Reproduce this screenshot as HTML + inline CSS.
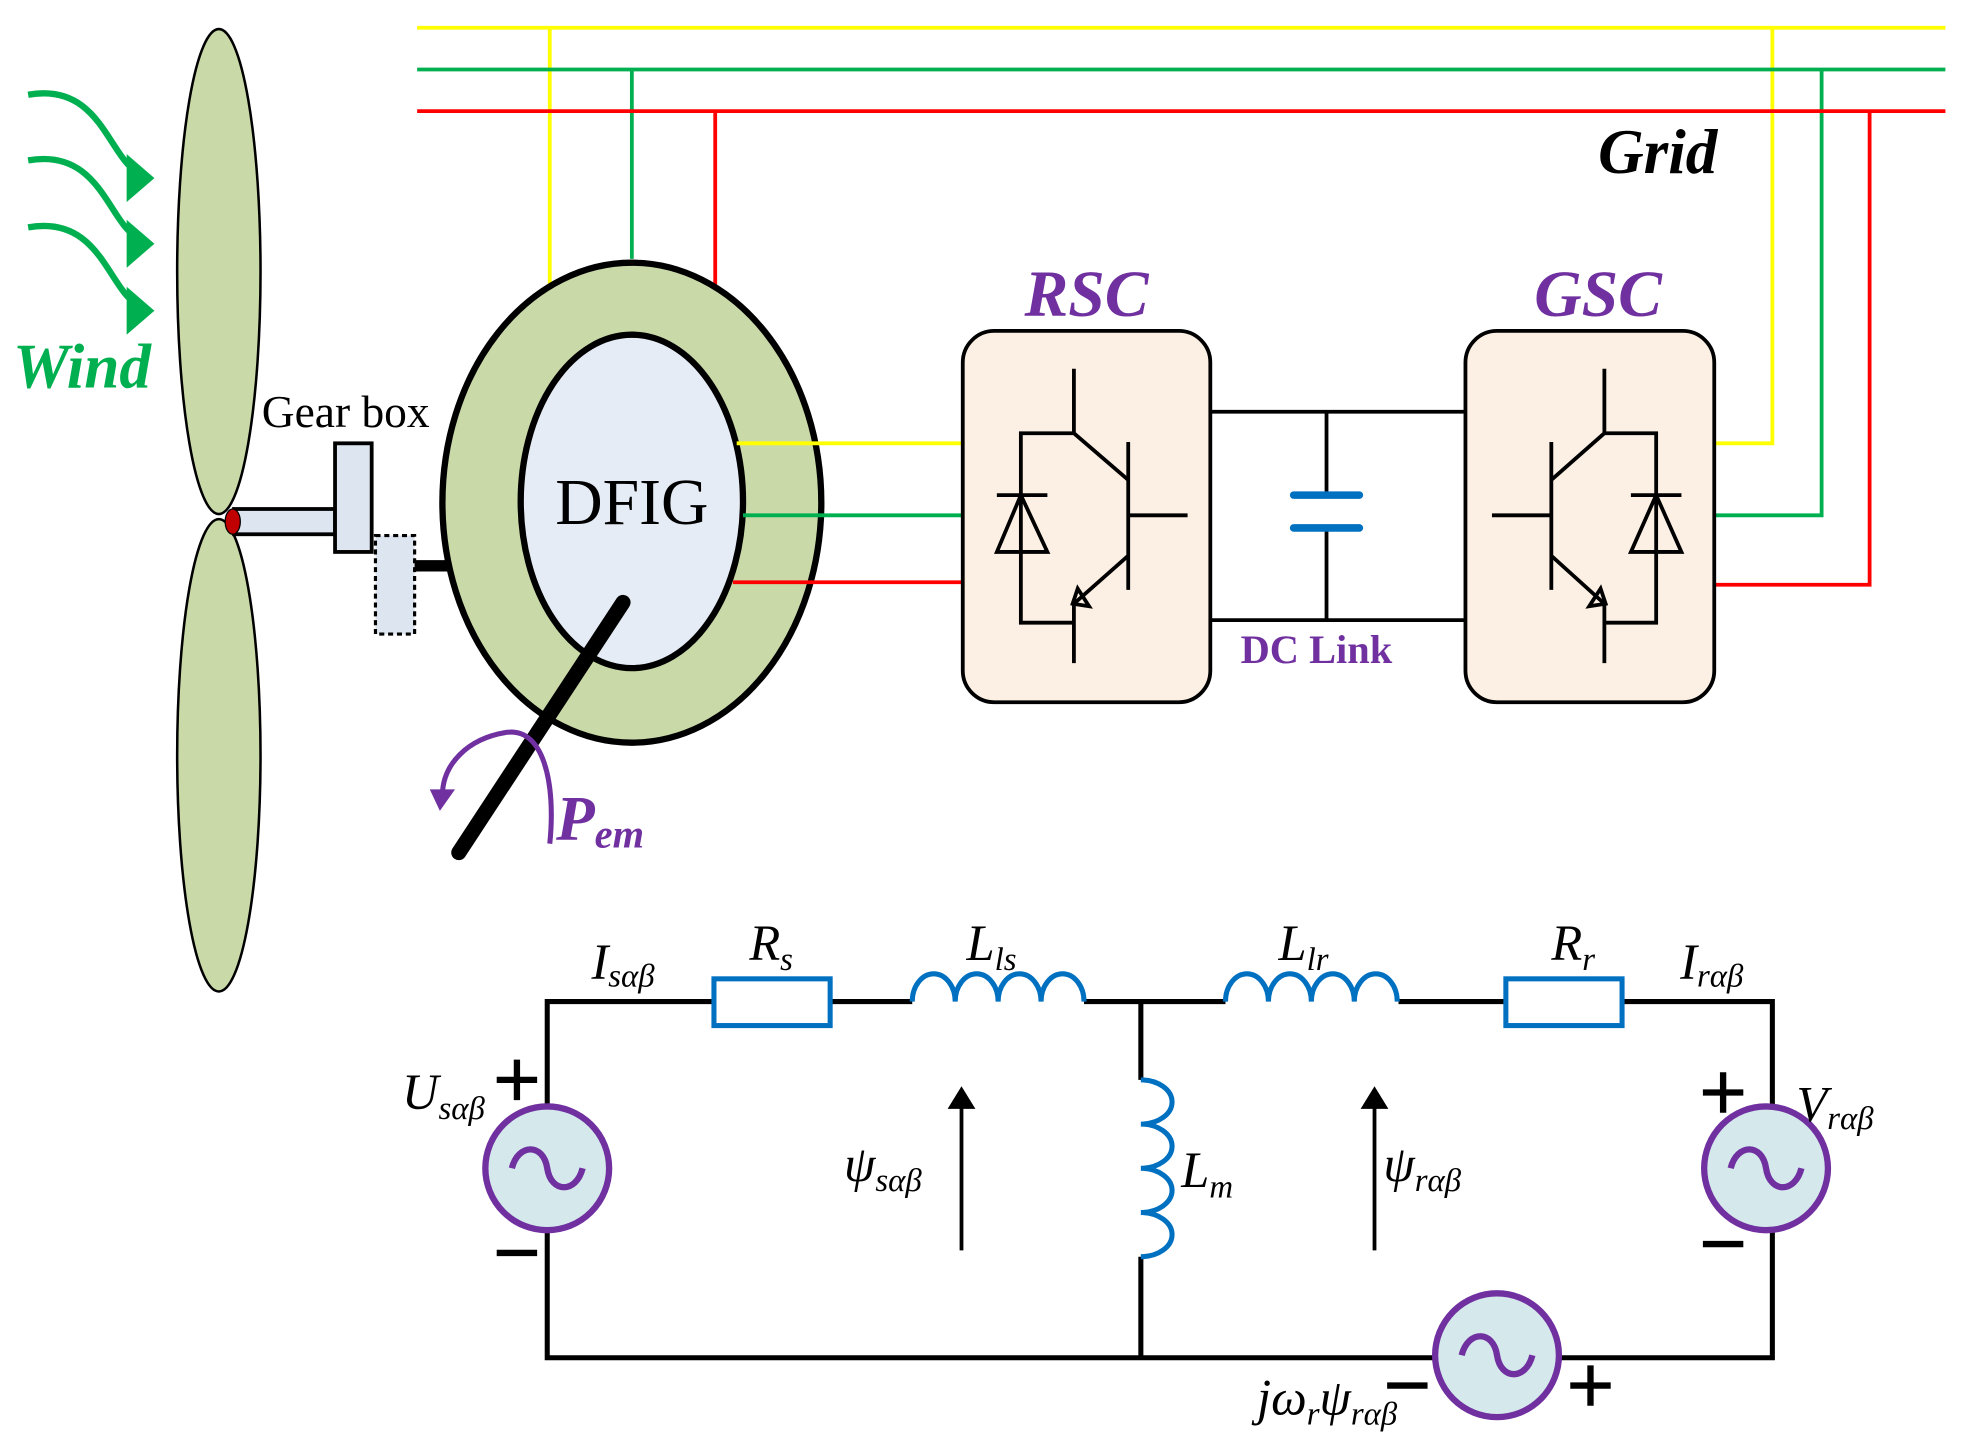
<!DOCTYPE html>
<html><head><meta charset="utf-8"><style>html,body{margin:0;padding:0;background:#fff}svg{display:block}text{font-family:"Liberation Serif",serif}</style></head>
<body>
<svg width="1971" height="1455" viewBox="0 0 1560 1152" xmlns="http://www.w3.org/2000/svg">
<g fill="none" stroke-width="3">
<path d="M330 22H1540M435 22V228M1403 22V351H1357" stroke="#ffff00"/>
<path d="M330 55H1540M500 55V205M1442 55V408H1357" stroke="#00b050"/>
<path d="M330 88H1540M566 88V230M1480 88V463H1357" stroke="#ff0000"/>
</g>
<text x="1265" y="137" font-size="50" font-weight="bold" font-style="italic">Grid</text>
<ellipse cx="173" cy="215" rx="33" ry="192" fill="#cad9a8" stroke="#000" stroke-width="2"/>
<ellipse cx="173" cy="598" rx="33" ry="187" fill="#cad9a8" stroke="#000" stroke-width="2"/>
<rect x="185" y="403" width="80" height="20" fill="#dde6f0" stroke="#000" stroke-width="3"/>
<ellipse cx="184" cy="413" rx="6" ry="10" fill="#c00000" stroke="#000" stroke-width="1"/>
<rect x="265" y="351" width="29" height="86" fill="#dde6f0" stroke="#000" stroke-width="3"/>
<rect x="297" y="424" width="31" height="78" fill="#dde6f0" stroke="#000" stroke-width="2.5" stroke-dasharray="4,3"/>
<path d="M328 448H355" stroke="#000" stroke-width="9"/>
<text x="207" y="338" font-size="36">Gear box</text>
<g fill="none" stroke="#00b050" stroke-width="5">
<path d="M22 75C80 65 85 125 110 137"/><path d="M22 127C80 117 85 177 110 189"/><path d="M22 180C80 170 85 230 110 242"/>
</g>
<g fill="#00b050"><path d="M122 141L100 122L100 160Z"/><path d="M122 193L100 174L100 212Z"/><path d="M122 246L100 227L100 265Z"/></g>
<text x="10" y="307" font-size="50" font-weight="bold" font-style="italic" fill="#00b050">Wind</text>
<ellipse cx="500" cy="398" rx="150" ry="190" fill="#cad9a8" stroke="#000" stroke-width="5"/>
<ellipse cx="500" cy="397" rx="88" ry="132" fill="#e6ecf6" stroke="#000" stroke-width="5"/>
<text x="500" y="415" font-size="52" text-anchor="middle">DFIG</text>
<g fill="none" stroke-width="3">
<path d="M583 351H762" stroke="#ffff00"/>
<path d="M588 408H762" stroke="#00b050"/>
<path d="M580 461H762" stroke="#ff0000"/>
</g>
<path d="M493 477L363 675" stroke="#000" stroke-width="12" stroke-linecap="round"/>
<path d="M435 668C440 620 430 575 400 580C370 585 350 605 350 630" fill="none" stroke="#7030a0" stroke-width="4"/>
<path d="M340 625L360 625L348 642Z" fill="#7030a0"/>
<text x="440" y="665" font-size="50" font-weight="bold" font-style="italic" fill="#7030a0">P<tspan font-size="32" dy="6">em</tspan></text>
<path d="M958 326H1160M958 491H1160M1050 326V392M1050 418V491" stroke="#000" stroke-width="3" fill="none"/>
<path d="M1024 392H1076M1024 418H1076" stroke="#0070c0" stroke-width="6" stroke-linecap="round"/>
<text x="982" y="525" font-size="32" font-weight="bold" fill="#7030a0">DC Link</text>
<rect x="762" y="262" width="196" height="294" rx="25" fill="#fcefe3" stroke="#000" stroke-width="3"/>
<rect x="1160" y="262" width="197" height="294" rx="25" fill="#fcefe3" stroke="#000" stroke-width="3"/>
<text x="860" y="250" font-size="52" font-weight="bold" font-style="italic" fill="#7030a0" text-anchor="middle">RSC</text>
<text x="1265" y="250" font-size="52" font-weight="bold" font-style="italic" fill="#7030a0" text-anchor="middle">GSC</text>
<g fill="none" stroke="#000" stroke-width="3">
<path d="M850 292V343L893 380M893 350V467M893 408H940M893 440L850 478V525M850 343H808V493H850M789 392H829M808 392L789 437H829Z"/>
<path d="M849 478L853 466L862 480Z"/>
<path d="M1270 292V343L1228 380M1228 350V467M1228 408H1181M1228 440L1270 478V525M1270 343H1311V493H1270M1291 392H1331M1311 392L1291 437H1331Z"/>
<path d="M1271 478L1267 466L1258 480Z"/>
</g>
<g fill="none" stroke="#000" stroke-width="4">
<path d="M433 876V793H565M657 793H722M858 793H970M1107 793H1192M1284 793H1403V876M433 974V1075H1135M1235 1075H1403V974M903 793V855M903 995V1075"/>
<path d="M761 990V870M1088 990V870" stroke-width="3"/>
</g>
<path d="M761 860L750 878H772Z M1088 860L1077 878H1099Z"/>
<g fill="none" stroke="#0070c0" stroke-width="4">
<rect x="565" y="775" width="92" height="37" fill="#fff"/>
<rect x="1192" y="775" width="92" height="37" fill="#fff"/>
<path d="M722 793a17 22 0 0 1 34 0a17 22 0 0 1 34 0a17 22 0 0 1 34 0a17 22 0 0 1 34 0"/>
<path d="M970 793a17 22 0 0 1 34 0a17 22 0 0 1 34 0a17 22 0 0 1 34 0a17 22 0 0 1 34 0"/>
<path d="M903 855a24 17 0 0 1 0 35a24 17 0 0 1 0 35a24 17 0 0 1 0 35a24 17 0 0 1 0 35"/>
</g>
<g fill="#d5e8ec" stroke="#7030a0" stroke-width="5">
<circle cx="433" cy="925" r="49"/><circle cx="1185" cy="1073" r="49"/><circle cx="1398" cy="925" r="49"/>
</g>
<g fill="none" stroke="#7030a0" stroke-width="5">
<path d="M405 925c5-20 25-20 28 0s23 20 28 0"/>
<path d="M1157 1073c5-20 25-20 28 0s23 20 28 0"/>
<path d="M1370 925c5-20 25-20 28 0s23 20 28 0"/>
</g>
<g font-size="40" font-style="italic">
<text x="468" y="775">I<tspan font-size="26" dy="6">sαβ</tspan></text>
<text x="593" y="760">R<tspan font-size="26" dy="8">s</tspan></text>
<text x="765" y="760">L<tspan font-size="26" dy="8">ls</tspan></text>
<text x="1012" y="760">L<tspan font-size="26" dy="8">lr</tspan></text>
<text x="1228" y="760">R<tspan font-size="26" dy="8">r</tspan></text>
<text x="1330" y="775">I<tspan font-size="26" dy="6">rαβ</tspan></text>
<text x="318" y="878">U<tspan font-size="26" dy="8">sαβ</tspan></text>
<text x="1422" y="888">V<tspan font-size="26" dy="6">rαβ</tspan></text>
<text x="668" y="935">ψ<tspan font-size="26" dy="8">sαβ</tspan></text>
<text x="1095" y="935">ψ<tspan font-size="26" dy="8">rαβ</tspan></text>
<text x="935" y="940">L<tspan font-size="26" dy="8">m</tspan></text>
<text x="995" y="1120">jω<tspan font-size="26" dy="8">r</tspan><tspan dy="-8">ψ</tspan><tspan font-size="26" dy="8">rαβ</tspan></text>
</g>
<g stroke="#000" stroke-width="5">
<path d="M393 855H425M409 839V871M393 992H425M1348 865H1380M1364 849V881M1348 985H1380M1243 1097H1275M1259 1081V1113M1098 1097H1130"/>
</g>
</svg>
</body></html>
